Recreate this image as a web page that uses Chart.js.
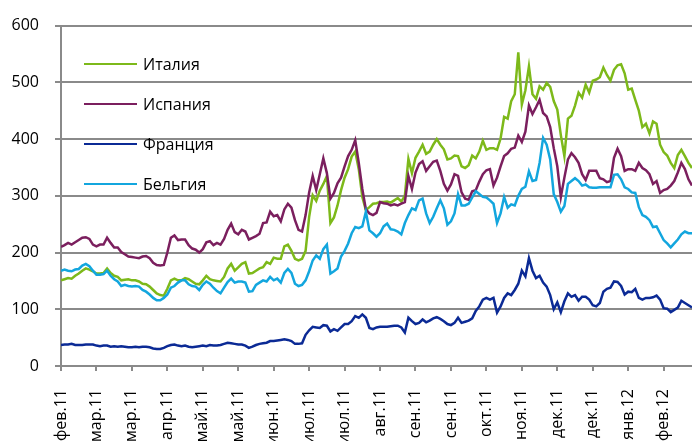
<!DOCTYPE html>
<html>
<head>
<meta charset="utf-8">
<script src="https://cdn.jsdelivr.net/npm/chart.js@4.4.1/dist/chart.umd.min.js"></script>
<style>
  html, body { margin: 0; padding: 0; background: #ffffff; }
  #wrap { position: relative; width: 692px; height: 441px; overflow: hidden; }
  #c { position: absolute; left: 0; top: 0; }
  .lg { position: absolute; left: 84px; height: 22px; display: flex; align-items: center;
        font-family: 'Open Sans', sans-serif; font-size: 16px; color: #000; white-space: nowrap; }
  .lg span.sw { display: inline-block; width: 53px; height: 2.5px; margin-right: 6px; }
</style>
</head>
<body>
<div id="wrap">
  <canvas id="c" width="692" height="441"></canvas>
</div>
<script>
// ---- data ----
const seriesNames = ['Италия', 'Испания', 'Франция', 'Бельгия'];
const seriesColors = ['#7DB91A', '#7B1F5E', '#0B2A95', '#13A6DE'];

const tickLabels = ['фев.11','мар.11','мар.11','апр.11','май.11','май.11','июн.11','июл.11','июл.11',
                    'авг.11','сен.11','сен.11','окт.11','ноя.11','дек.11','дек.11','янв.12','фев.12'];

const italy = [
  151,153,155,154,159,163,168,172,170,167, 163,163,164,172,164,159,157,151,152,153,
  151,151,149,145,144,140,134,128,125,124, 136,151,154,151,151,155,153,149,145,144,
  151,159,153,151,150,
  149,157,172,180,168, 174,180,183,163,164, 168,172,174,183,180, 191,189,189,211,214,
  203,189,186,189,203, 263,301,291,309,321, 335,252,262,283,310, 332,347,369,378,347,
  298,275,280,
  286,287,289,289,290,288,292,296,290,300, 365,340,367,378,390,374,378,390,400,390,
  382,364,366,371,370,352,349,354,371,366, 378,397,381,384,384,381,401,439,436,467,
  479,553,461,486,528,
  479,471,493,487,499,492,467,452,407,370, 436,441,459,482,473,496,482,503,505,509,
  526,513,503,522,530,532,516,487,489,469, 450,421,427,410,431,427,390,377,371,358,
  349,372,381,370,358,349
];
const spain = [
  210,213,217,214,218,222,226,227,224,214, 211,214,214,226,217,209,209,201,197,193,
  192,191,190,193,194,190,182,178,177,178, 200,226,230,222,223,223,213,207,205,200,
  206,218,220,213,217,
  214,224,240,251,236, 232,240,237,223,226, 229,233,252,253,272, 264,266,255,276,286,
  279,257,240,237,266, 306,335,310,338,366, 340,295,305,322,332, 352,370,381,398,358,
  312,276,269,
  266,270,289,287,286,283,285,283,286,289, 335,312,341,356,361,344,352,360,362,344,
  321,309,320,338,335,306,295,293,308,310, 325,338,345,347,318,332,352,370,375,383,
  385,406,395,413,459,
  444,456,469,446,440,421,384,352,298,332, 364,375,368,358,338,328,344,344,344,331,
  329,324,326,367,383,370,344,347,347,344, 358,349,345,338,321,326,305,310,312,318,
  326,341,358,347,329,318
];
const france = [
  37,38,38,39,37,37,37,38,38,38, 36,35,36,36,34,35,34,35,34,33,
  33,34,33,34,34,33,31,30,30,32, 35,37,38,36,35,36,34,33,34,35,
  36,35,37,36,36,
  37,39,41,40,39, 38,38,36,32,34, 37,39,40,41,44, 44,45,46,47,46,
  44,39,39,40,55, 63,69,68,67,72, 71,61,65,62,68, 74,74,79,88,85,
  91,85,67,
  65,68,69,69,69,70,71,71,68,59, 85,79,74,76,82,77,80,84,86,83,
  79,74,72,76,85,76,78,80,84,97, 105,117,120,117,120,94,105,120,128,125,
  134,145,168,158,190,
  168,155,159,147,140,125,100,112,95,114, 128,122,125,115,122,122,117,107,105,111,
  131,136,138,149,148,141,126,131,130,136, 120,117,120,120,121,124,117,102,101,95,
  99,103,115,111,107,103
];
const belgium = [
  168,170,168,167,170,171,177,180,176,168, 161,161,162,168,159,153,149,141,143,141,
  140,141,140,134,131,126,120,116,116,120, 126,138,141,147,151,151,144,141,140,134,
  143,149,145,138,132,
  128,138,148,154,147, 149,149,147,131,132, 143,147,151,149,157, 151,154,147,164,171,
  164,145,141,143,151, 167,186,195,189,206, 214,163,167,172,193, 203,216,234,245,243,
  246,272,239,
  234,228,234,246,251,241,240,237,232,252, 266,278,275,292,295,269,252,263,278,292,
  278,249,255,269,303,283,283,286,297,308, 303,298,297,292,286,252,269,298,279,285,
  283,300,312,316,343,
  326,328,358,402,390,364,303,289,272,282, 321,326,331,326,318,320,315,314,314,315,
  315,315,315,337,338,329,315,312,306,305, 280,266,263,257,245,246,234,222,216,209,
  216,223,232,237,234,234
];

const seriesValues = [italy, spain, france, belgium];
const pointsPerTick = 10;
const xIndex = italy.map((_, i) => i);

// ---- chart ----
Chart.defaults.font.family = "'Open Sans', sans-serif";
Chart.defaults.font.size = 16;
Chart.defaults.color = '#000000';

const gridGray = '#8a8a8a';

const chart = new Chart(document.getElementById('c').getContext('2d'), {
  type: 'line',
  data: {
    labels: xIndex,
    datasets: seriesValues.map((vals, k) => ({
      label: seriesNames[k],
      data: vals,
      borderColor: seriesColors[k],
      backgroundColor: seriesColors[k],
      borderWidth: 2.5,
      pointRadius: 0,
      tension: 0,
      fill: false,
      order: seriesValues.length - 1 - k
    }))
  },
  options: {
    responsive: false,
    animation: false,
    devicePixelRatio: 1,
    layout: { padding: { top: 18, right: 0, bottom: 0, left: 0 } },
    plugins: { legend: { display: false }, tooltip: { enabled: false } },
    scales: {
      x: {
        type: 'linear',
        min: 0,
        max: xIndex.length - 1,
        grid: { display: true, drawOnChartArea: false, drawTicks: true, tickLength: 5, color: gridGray, lineWidth: 2 },
        border: { display: true, color: gridGray, width: 2 },
        ticks: {
          stepSize: pointsPerTick,
          includeBounds: false,
          autoSkip: false,
          maxRotation: 90,
          minRotation: 90,
          padding: 18,
          color: '#000',
          font: { size: 16 },
          callback: (v) => {
            const k = Math.round(v / pointsPerTick);
            return (v % pointsPerTick === 0 && tickLabels[k] !== undefined) ? tickLabels[k] : null;
          }
        },
        afterFit: (s) => { s.height = 75; s.paddingLeft = 0; s.paddingRight = 0; }
      },
      y: {
        min: 0,
        max: 600,
        ticks: { stepSize: 100, padding: 16, color: '#000', font: { size: 16 } },
        grid: { color: gridGray, lineWidth: 2, tickLength: 6 },
        border: { display: true, color: gridGray, width: 2 },
        afterFit: (s) => { s.width = 61; }
      }
    }
  }
});

// ---- legend (HTML, real text) ----
const wrap = document.getElementById('wrap');
seriesNames.forEach((name, k) => {
  const d = document.createElement('div');
  d.className = 'lg';
  d.style.top = (53 + k * 40) + 'px';
  const sw = document.createElement('span');
  sw.className = 'sw';
  sw.style.background = seriesColors[k];
  const t = document.createElement('span');
  t.textContent = name;
  d.appendChild(sw);
  d.appendChild(t);
  wrap.appendChild(d);
});
</script>
</body>
</html>
